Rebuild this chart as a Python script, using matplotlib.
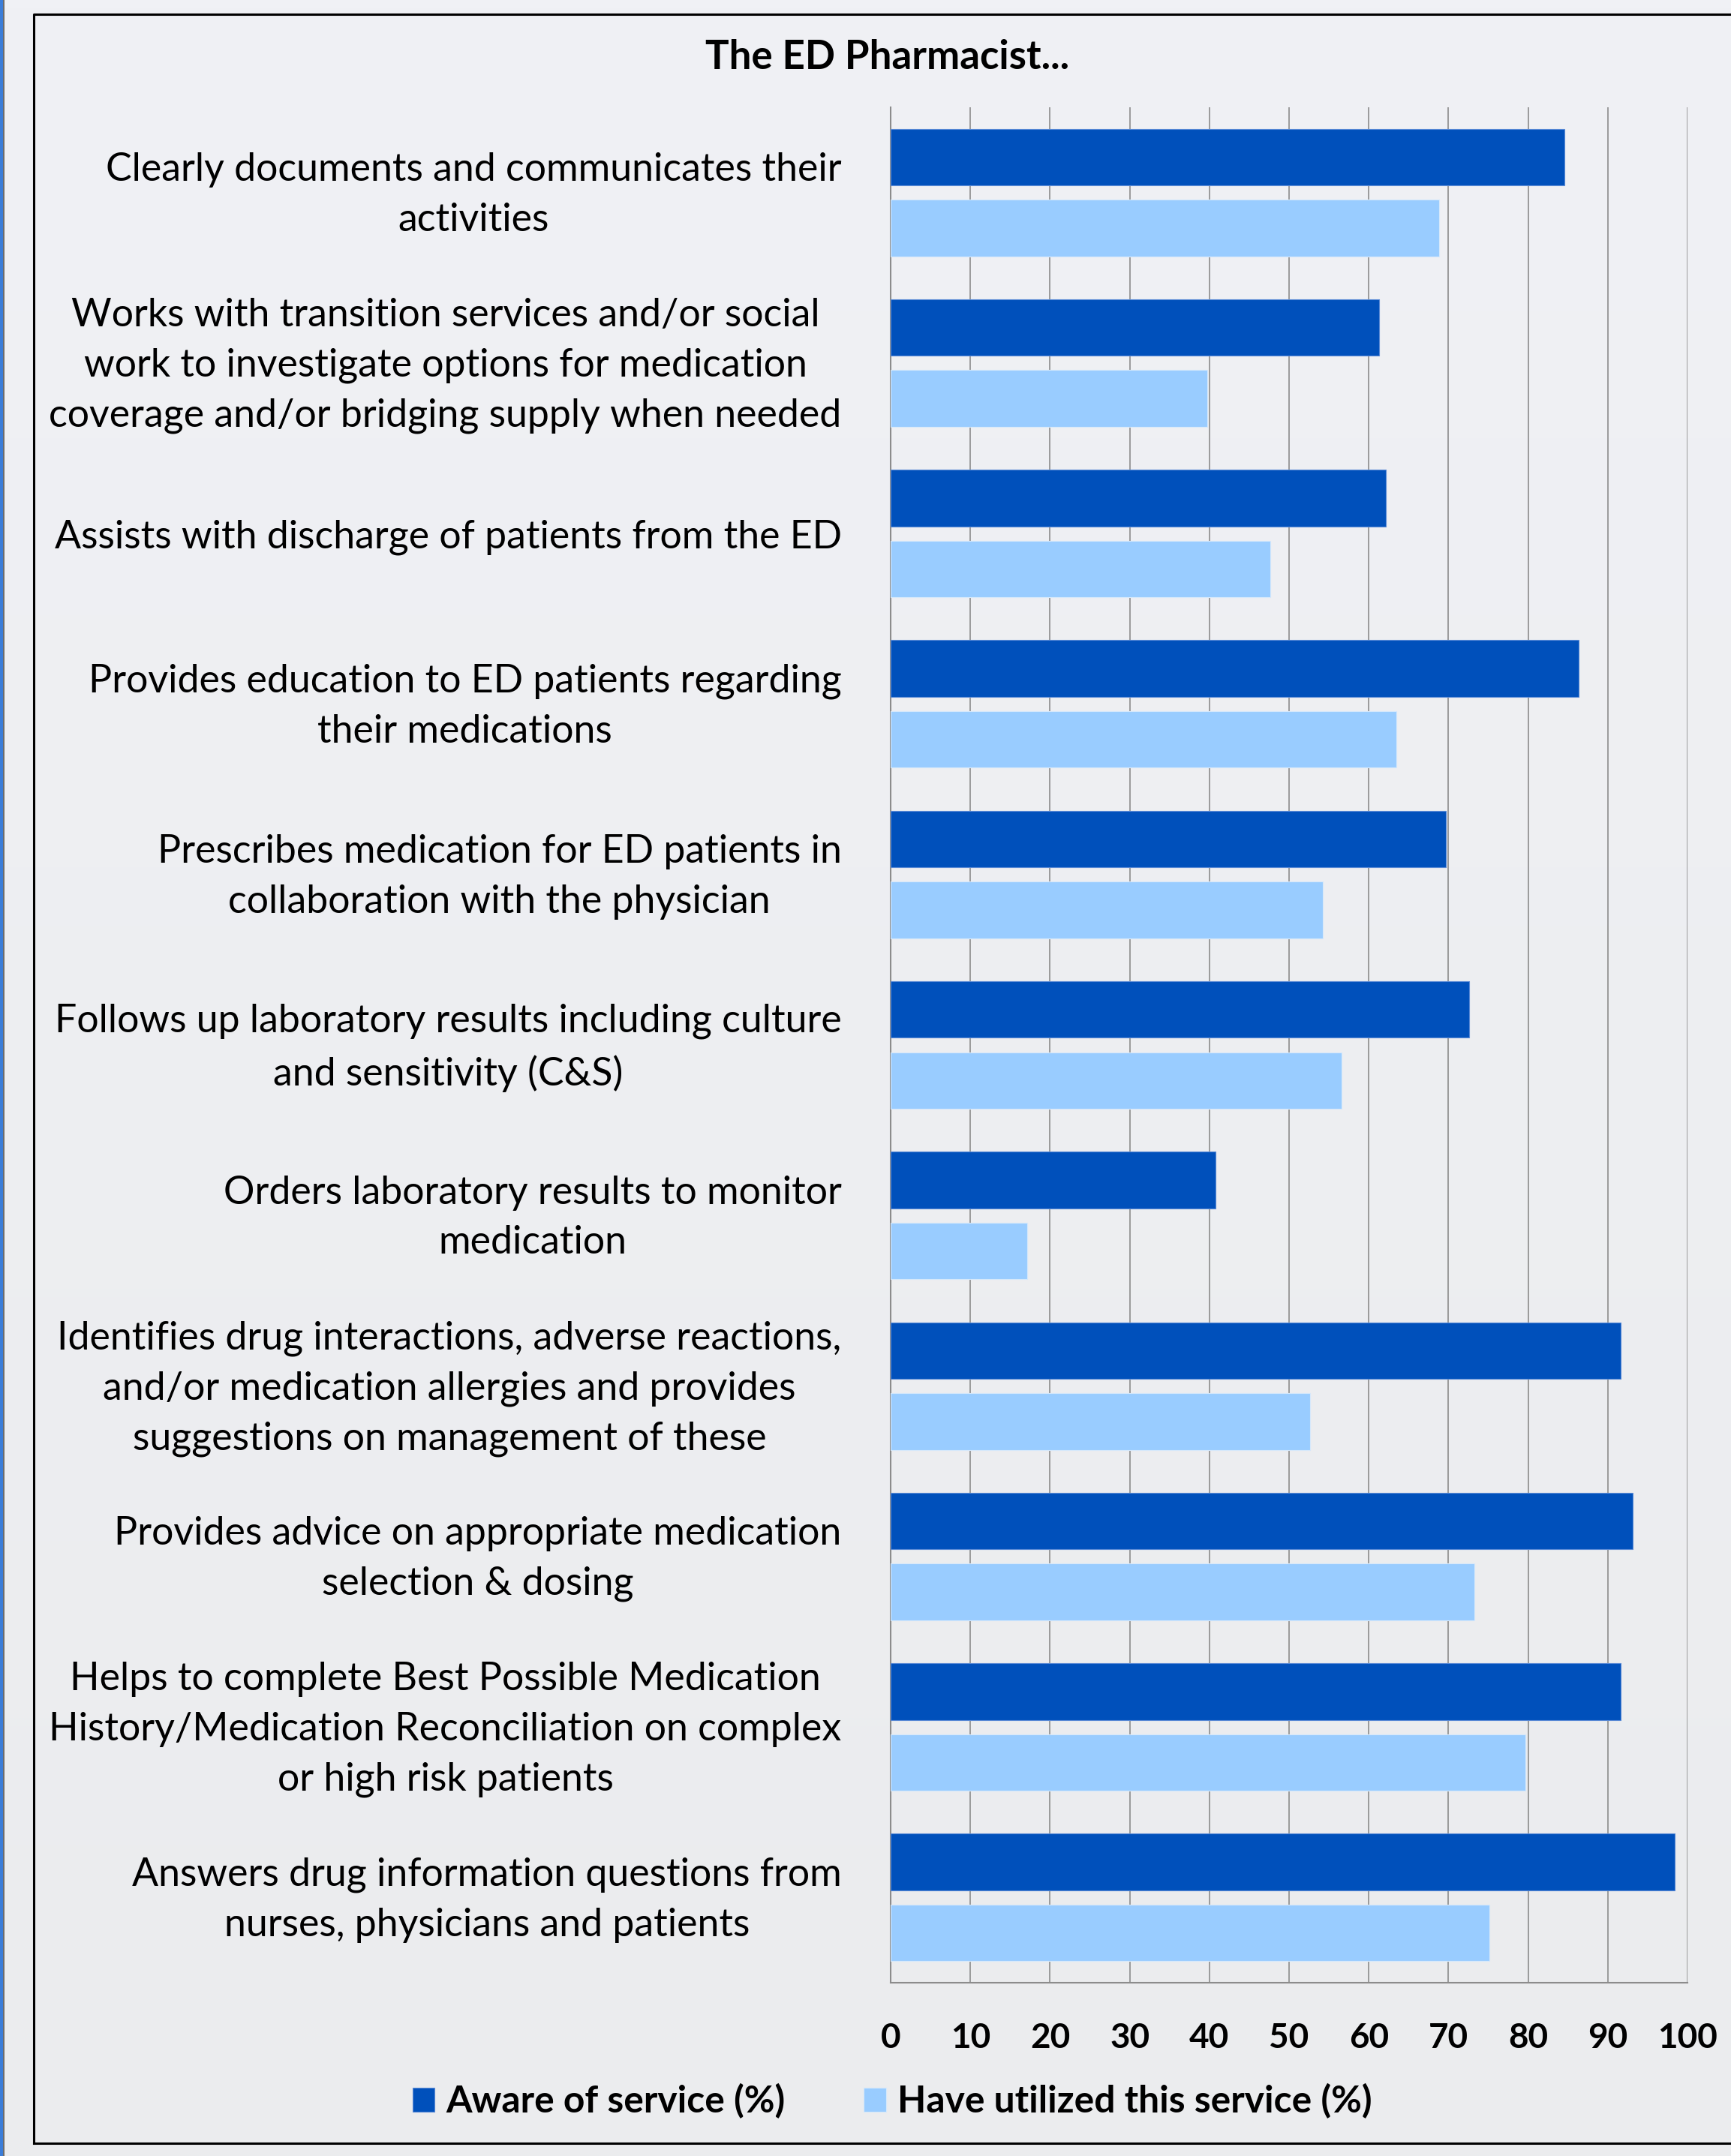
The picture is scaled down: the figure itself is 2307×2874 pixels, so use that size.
import matplotlib
matplotlib.use('Agg')
import matplotlib.pyplot as plt
import matplotlib.transforms as mtransforms
import numpy as np
from matplotlib.patches import Rectangle

labels = [
    'Clearly documents and communicates their\nactivities',
    'Works with transition services and/or social\nwork to investigate options for medication\ncoverage and/or bridging supply when needed',
    'Assists with discharge of patients from the ED',
    'Provides education to ED patients regarding\ntheir medications',
    'Prescribes medication for ED patients in\ncollaboration with the physician',
    'Follows up laboratory results including culture\nand sensitivity (C&S)',
    'Orders laboratory results to monitor\nmedication',
    'Identifies drug interactions, adverse reactions,\nand/or medication allergies and provides\nsuggestions on management of these',
    'Provides advice on appropriate medication\nselection & dosing',
    'Helps to complete Best Possible Medication\nHistory/Medication Reconciliation on complex\nor high risk patients',
    'Answers drug information questions from\nnurses, physicians and patients',
]
aware = [84.6, 61.3, 62.1, 86.3, 69.7, 72.6, 40.8, 91.6, 93.1, 91.6, 98.4]
utilized = [68.8, 39.7, 47.6, 63.5, 54.2, 56.6, 17.1, 52.6, 73.3, 79.7, 75.1]
xticks = [0, 10, 20, 30, 40, 50, 60, 70, 80, 90, 100]

plt.rcParams['font.family'] = ['Lato', 'DejaVu Sans']

W, H = 2307, 2874
fig = plt.figure(figsize=(W / 100, H / 100), dpi=100)

# background with a faint vertical gradient
bg = fig.add_axes([0, 0, 1, 1], zorder=-10)
grad = np.linspace(0, 1, 256).reshape(-1, 1)
top = np.array([0xF0, 0xF1, 0xF5]) / 255
bot = np.array([0xEB, 0xEC, 0xEE]) / 255
img = top + (bot - top) * grad[:, :, None]
bg.imshow(img, aspect='auto', extent=[0, 1, 0, 1], origin='upper')
bg.set_xlim(0, 1)
bg.set_ylim(0, 1)
bg.axis('off')
# left blue strip and chart frame
bg.add_patch(Rectangle((0, 0), 4 / W, 1, color='#3b7dd8', lw=0))
bg.add_patch(Rectangle((4 / W, 0), 2 / W, 1, color='#6d6d6d', lw=0))
bg.plot([45 / W, 45 / W, 1.01], [1 - 2857 / H, 1 - 19 / H, 1 - 19 / H], color='black', lw=2.2)
bg.plot([45 / W, 1.01], [1 - 2857 / H, 1 - 2857 / H], color='black', lw=2.2)

ax = fig.add_axes([1187 / W, 1 - 2643 / H, 1062 / W, 2500 / H])
ax.patch.set_alpha(0)

y = np.arange(len(labels))
off = 0.208
h = 0.332
b1 = ax.barh(y - off, aware, height=h, color='#0050bb', edgecolor='#5a8ad6', lw=0.8,
             label='Aware of service (%)', zorder=3)
b2 = ax.barh(y + off, utilized, height=h, color='#99ccff', edgecolor='#d5e8fb', lw=0.8,
             label='Have utilized this service (%)', zorder=3)

ax.set_xlim(0, 100)
ax.set_ylim(len(labels) - 0.5, -0.5)
ax.set_xticks(xticks)
ax.set_yticks(y)
ax.set_yticklabels(labels, multialignment='center', fontsize=37.4, linespacing=1.52)
ax.set_xticklabels([str(t) for t in xticks], fontsize=33, fontweight='bold')
ax.tick_params(axis='y', length=0, pad=47)
ax.tick_params(axis='x', length=0, pad=38)
# multi-line labels sit a little low, nudge them up
shift = mtransforms.ScaledTranslation(0, 8 / 72, fig.dpi_scale_trans)
for lbl in ax.get_yticklabels():
    if '\n' in lbl.get_text():
        lbl.set_transform(lbl.get_transform() + shift)
ax.grid(axis='x', color='#8c8c8c', lw=1.2, zorder=0)
for s in ['top', 'right']:
    ax.spines[s].set_visible(False)
for s in ['left', 'bottom']:
    ax.spines[s].set_color('#8c8c8c')
    ax.spines[s].set_linewidth(1.5)

fig.text(1183 / W, 1 - 76 / H, 'The ED Pharmacist...', ha='center', va='center',
         fontsize=38, fontweight='bold')

leg = fig.legend(handles=[b1, b2], loc='center', bbox_to_anchor=(1189 / W, 1 - 2801 / H),
                 ncol=2, frameon=False, prop={'size': 35.8, 'weight': 'bold'},
                 handlelength=0.6, handleheight=0.6, handletextpad=0.3, columnspacing=2.1)

fig.savefig('out.png', dpi=100)
